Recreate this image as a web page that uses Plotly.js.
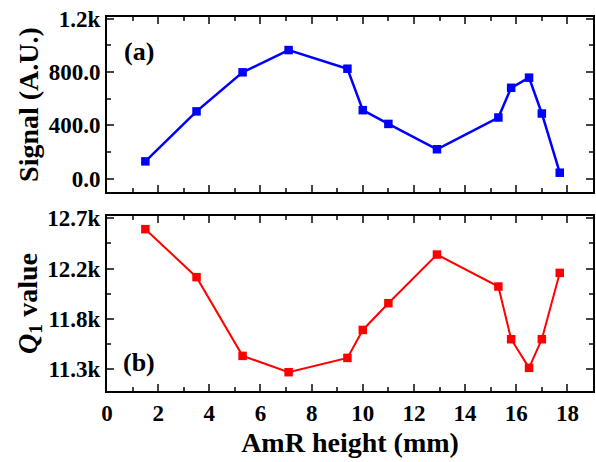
<!DOCTYPE html>
<html>
<head>
<meta charset="utf-8">
<script src="https://cdn.plot.ly/plotly-3.0.1.min.js"></script>
<style>html,body{margin:0;padding:0;background:#fff;}</style>
</head>
<body>
<div id="chart" style="width:596px;height:462px;"></div>
<script>
const heights = [1.5, 3.5, 5.3, 7.1, 9.4, 10.0, 11.0, 12.9, 15.3, 15.8, 16.5, 17.0, 17.7];
const signal = [130, 505, 798, 965, 825, 514, 411, 221, 459, 682, 758, 489, 45];
const q1 = [12552, 12123, 11419, 11273, 11401, 11651, 11890, 12325, 12039, 11568, 11312, 11568, 12161];
const sigTickVals = [0, 400, 800, 1200];
const sigTickText = ['0.0', '400.0', '800.0', '1.2k'];
const qTickVals = [11300, 11750, 12200, 12650];
const qTickText = ['11.3k', '11.8k', '12.2k', '12.7k'];
const xTickVals = [0, 2, 4, 6, 8, 10, 12, 14, 16, 18];

const FONT = 'Liberation Serif, Times New Roman, serif';
const tickFont = {family: FONT, size: 23, color: '#000', weight: 'bold'};
const titleFont = {family: FONT, size: 28, color: '#000', weight: 'bold'};

const traces = [
  {x: heights, y: signal, xaxis: 'x2', yaxis: 'y2', mode: 'lines+markers', type: 'scatter',
   line: {color: '#0000ff', width: 2.5}, marker: {symbol: 'square', size: 8.5, color: '#0000ff'}},
  {x: heights, y: q1, xaxis: 'x', yaxis: 'y', mode: 'lines+markers', type: 'scatter',
   line: {color: '#ff0000', width: 2}, marker: {symbol: 'square', size: 8.5, color: '#ff0000'}}
];

const xCommon = {range: [0, 19], tickmode: 'array', tickvals: xTickVals, ticks: 'inside', ticklen: 7, tickwidth: 2,
  showline: true, linewidth: 2, linecolor: '#000', mirror: 'ticks', showgrid: false, zeroline: false,
  minor: {ticks: 'inside', ticklen: 4, tickwidth: 2, dtick: 1, tick0: 0, showgrid: false}};

const layout = {
  width: 596, height: 462,
  margin: {l: 107, r: 3, t: 17, b: 71},
  paper_bgcolor: '#fff', plot_bgcolor: '#fff',
  showlegend: false,
  font: {family: FONT, color: '#000'},
  xaxis: Object.assign({}, xCommon, {domain: [0, 1], anchor: 'y', tickfont: tickFont,
    title: {text: 'AmR height (mm)', font: titleFont, standoff: 8}}),
  xaxis2: Object.assign({}, xCommon, {domain: [0, 1], anchor: 'y2', showticklabels: false, matches: 'x'}),
  yaxis: {domain: [0, 0.468], anchor: 'x', range: [11105, 12670], tickmode: 'array', tickvals: qTickVals, ticktext: qTickText,
    ticks: 'inside', ticklen: 7, tickwidth: 2, showline: true, linewidth: 2, linecolor: '#000', mirror: 'ticks',
    showgrid: false, zeroline: false, tickfont: tickFont,
    minor: {ticks: 'inside', ticklen: 4, tickwidth: 2, tickmode: 'array', tickvals: [11525, 11975, 12425], showgrid: false},
    title: {text: '<i>Q</i><sub>1</sub> value', font: titleFont, standoff: 2}},
  yaxis2: {domain: [0.532, 1], anchor: 'x2', range: [-100, 1213], tickmode: 'array', tickvals: sigTickVals, ticktext: sigTickText,
    ticks: 'inside', ticklen: 7, tickwidth: 2, showline: true, linewidth: 2, linecolor: '#000', mirror: 'ticks',
    showgrid: false, zeroline: false, tickfont: tickFont,
    minor: {ticks: 'inside', ticklen: 4, tickwidth: 2, tickmode: 'array', tickvals: [200, 600, 1000], showgrid: false},
    title: {text: 'Signal (A.U.)', font: titleFont, standoff: 2}},
  annotations: [
    {text: '(a)', xref: 'paper', yref: 'paper', x: 0.066, y: 0.909, xanchor: 'center', yanchor: 'middle', showarrow: false,
     font: {family: FONT, size: 26, color: '#000', weight: 'bold'}},
    {text: '(b)', xref: 'paper', yref: 'paper', x: 0.066, y: 0.077, xanchor: 'center', yanchor: 'middle', showarrow: false,
     font: {family: FONT, size: 26, color: '#000', weight: 'bold'}}
  ]
};

Plotly.newPlot('chart', traces, layout, {displayModeBar: false, staticPlot: true});
</script>
</body>
</html>
